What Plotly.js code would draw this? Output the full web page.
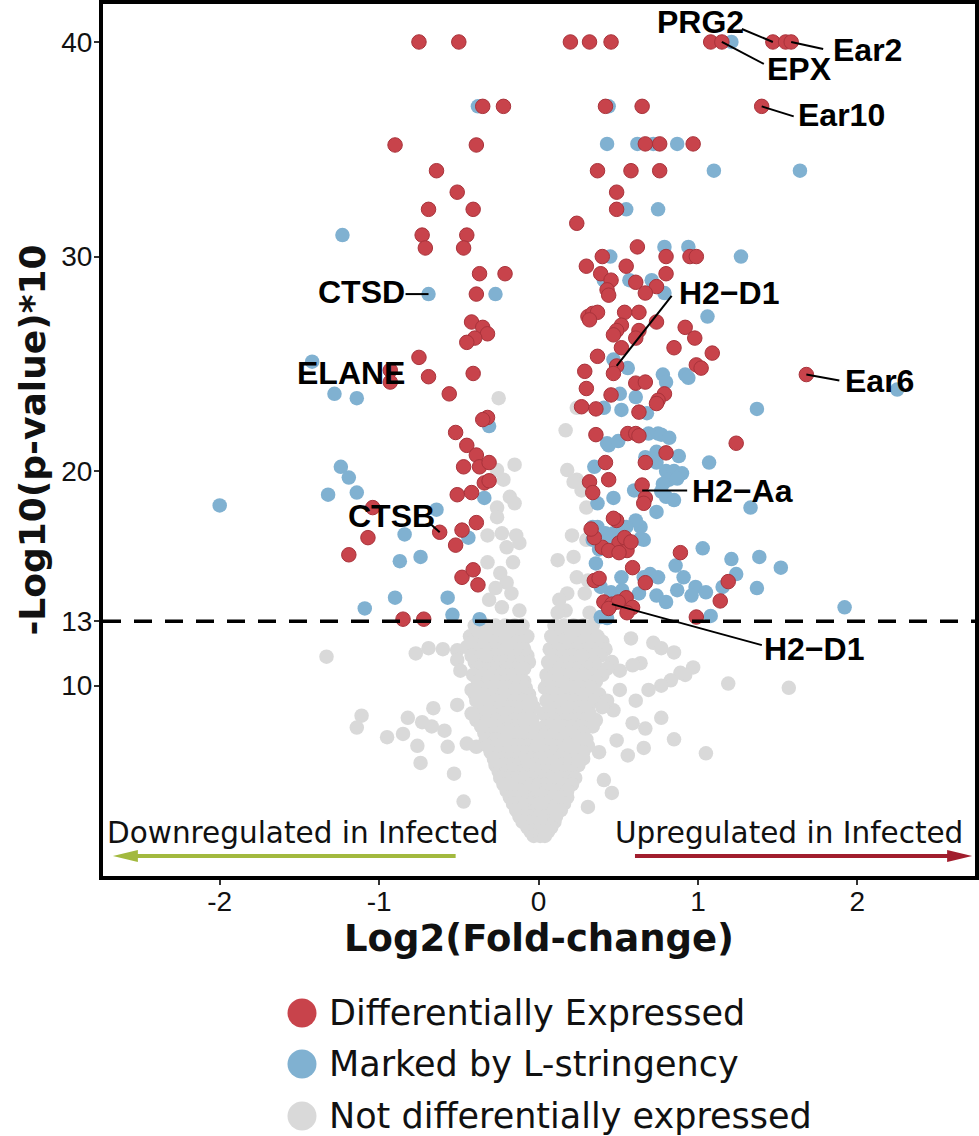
<!DOCTYPE html>
<html>
<head>
<meta charset="utf-8">
<script src="https://cdn.plot.ly/plotly-3.0.1.min.js"></script>
<style>html,body{margin:0;padding:0;background:#fff;}#chart{width:979px;height:1136px;}</style>
</head>
<body>
<div id="chart"></div>
<script>
// ---------- DATA ----------
const seriesNames = ['Differentially Expressed', 'Marked by L-stringency', 'Not differentially expressed'];

// Differentially expressed genes: [log2FC, -log10(p)*10]
const redPoints = [
  [-0.75,40],[-0.50,40],[-0.35,37],[-0.22,37],[-0.90,35.2],[-0.39,35.2],
  [-0.64,34.0],[-0.51,33.0],[-0.69,32.2],[-0.41,32.2],[-0.73,31.0],[-0.71,30.4],
  [-0.45,31.0],[-0.47,30.4],[-0.37,29.2],[-0.21,29.2],[-0.39,28.25],
  [-0.42,26.95],[-0.35,26.7],[-0.32,26.4],[-0.40,26.2],[-0.45,26.0],
  [-0.75,25.3],[-0.69,24.4],[-0.41,24.55],[-0.56,23.6],[-0.93,24.7],[-0.93,24.15],
  [-0.32,22.5],[-0.35,22.4],[-0.52,21.8],[-0.45,21.2],[-0.39,20.75],[-0.47,20.2],
  [-0.37,20.2],[-0.31,20.4],[-0.34,19.45],[-0.31,19.55],[-0.51,18.9],[-0.42,19.0],
  [-1.04,18.3],[-1.07,16.9],[-1.19,16.1],[-0.62,17.15],[-0.39,17.6],[-0.48,17.25],
  [-0.52,16.55],[-0.48,15.05],[-0.41,15.4],[-0.38,14.7],[-0.85,13.1],[-0.72,13.1],
  [0.20,40],[0.32,40],[0.455,40],[1.08,40],[1.15,40],[1.47,40],[1.55,40],[1.585,40],
  [0.42,37],[0.65,37],[1.40,37],[0.67,35.25],[0.76,35.25],[0.97,35.25],
  [0.37,34.0],[0.58,34.0],[0.76,34.0],[0.49,33.0],[0.49,32.2],[0.24,31.55],
  [0.62,30.45],[0.40,30.0],[0.80,30.0],[0.95,30.0],[0.99,30.0],
  [0.30,29.55],[0.55,29.55],[0.39,29.2],[0.80,29.2],
  [0.455,28.9],[0.43,28.45],[0.44,28.2],[0.61,28.8],[0.74,28.6],[0.67,28.3],
  [0.31,27.2],[0.34,27.35],[0.37,27.4],[0.54,27.4],[0.63,27.4],[0.74,26.95],[0.32,27.05],
  [0.52,26.8],[0.49,26.55],[0.47,26.35],[0.63,26.55],[0.61,26.2],
  [0.92,26.7],[0.98,26.2],[0.85,25.75],[1.09,25.5],[0.52,25.75],[0.37,25.35],
  [0.49,24.9],[0.47,24.55],[0.29,24.65],[0.99,24.95],[1.02,24.8],
  [0.30,23.85],[0.61,24.1],[0.67,24.15],[0.79,23.6],[0.75,23.3],
  [0.455,23.55],[0.27,23.0],[0.36,22.9],[0.63,22.75],[0.74,23.15],
  [0.36,21.7],[0.56,21.75],[0.61,21.75],[0.63,21.65],
  [1.68,24.5],[1.24,21.3],[0.80,20.85],[0.67,20.4],[0.42,20.4],
  [0.32,19.5],[0.34,19.0],[0.44,19.6],[0.65,19.35],[0.67,18.75],[0.66,18.5],
  [0.49,17.7],[0.47,17.8],[0.505,16.65],[0.55,16.8],[0.40,16.45],[0.555,16.3],
  [0.54,16.9],[0.58,16.7],[0.44,16.3],[0.505,16.2],[0.35,16.9],[0.33,17.3],
  [0.89,16.2],[0.35,14.9],[0.59,15.5],[0.67,14.8],[1.19,14.85],[1.14,13.95],[0.38,15.0],
  [0.41,13.9],[0.46,13.8],[0.55,14.1],[0.59,13.65],[0.555,13.4],[0.99,13.2],[0.50,13.9],[0.44,13.6]
];

// Marked by L-stringency
const bluePoints = [
  [-0.38,37],[-1.23,31.0],[-0.69,28.25],[-0.27,28.25],
  [-1.42,25.1],[-1.28,23.6],[-1.14,23.4],[-0.31,22.1],
  [-1.24,20.2],[-1.19,19.7],[-1.32,18.9],[-1.14,19.0],[-2.0,18.4],
  [-0.34,18.75],[-0.64,18.2],[-0.84,17.05],[-0.44,16.9],[-0.87,15.8],[-0.74,16.0],
  [-0.90,14.1],[-0.57,14.1],[-1.09,13.6],[-0.54,13.3],[-0.37,13.1],
  [1.21,40],[0.44,37],[0.43,35.25],[0.62,35.25],[0.72,35.25],[0.87,35.25],
  [1.10,34.0],[1.64,34.0],[0.55,32.2],[0.75,32.2],
  [0.79,30.45],[0.94,30.45],[1.27,30.0],[0.45,30.0],
  [0.41,28.9],[0.57,28.9],[0.71,28.9],[0.79,28.3],[1.06,27.2],
  [0.47,25.2],[0.56,24.8],[0.78,24.5],[0.80,24.15],[0.92,24.5],[0.94,24.35],
  [2.25,23.8],[1.37,22.9],[0.51,23.6],[0.61,23.45],[0.41,22.95],[0.52,22.85],[0.68,22.7],
  [0.69,21.75],[0.75,21.75],[0.77,21.7],[0.82,21.55],[0.43,21.3],[0.44,21.2],[0.50,21.4],
  [1.07,20.4],[0.88,20.7],[0.74,20.9],[0.67,20.65],[0.74,20.4],[0.35,20.2],
  [0.80,20.0],[0.85,20.0],[0.90,19.9],[0.82,19.6],[0.87,19.65],[0.78,19.4],
  [0.60,19.1],[0.77,19.05],[1.33,18.3],
  [0.37,18.5],[0.47,18.75],[0.74,18.1],[0.80,18.8],[0.85,18.65],
  [0.37,17.4],[0.42,17.1],[0.47,17.1],[0.52,17.1],[0.64,17.4],[0.66,16.8],[0.61,17.7],
  [0.55,17.4],[0.34,17.4],[0.34,16.8],[0.38,16.35],[0.36,15.7],[0.45,16.85],[0.50,16.85],[0.64,16.85],
  [1.03,16.4],[1.21,15.9],[1.385,16.0],[1.52,15.5],[1.92,13.65],
  [0.52,15.05],[0.75,15.05],[0.86,15.6],[0.91,15.05],[0.985,14.6],[1.05,14.35],[0.87,14.45],
  [1.24,15.2],[1.155,14.6],[1.37,14.55],[0.74,14.2],[0.80,13.9],[0.63,14.3],[0.455,14.35],
  [0.525,14.45],[0.70,15.2],[0.66,15.05],[0.39,13.2],[0.43,13.15],[1.08,13.25],[0.39,14.6],[0.96,14.2]
];

// Not differentially expressed
const greyPoints = [
  [-0.25,23.4],[-0.15,20.3],[-0.26,20.05],[-0.22,19.6],[-0.18,18.8],[-0.15,18.5],[-0.26,18.3],
  [-0.26,17.85],[-0.32,17.0],[-0.23,17.1],[-0.14,17.0],[-0.20,16.45],[-0.12,16.65],[-0.16,15.75],
  [-0.32,15.75],[-0.24,15.25],[-0.20,14.8],[-0.27,14.55],[-0.17,14.3],[-0.31,14.0],[-0.23,13.65],
  [-0.12,13.5],[-0.36,12.95],
  [0.17,21.9],[0.24,22.95],[0.18,20.05],[0.24,19.6],[0.27,19.1],[0.30,18.3],[0.21,17.0],[0.30,16.8],
  [0.12,15.85],[0.22,16.0],[0.24,15.05],[0.31,14.9],[0.18,14.3],[0.13,14.0],[0.29,14.3],[0.17,13.5],
  [0.32,13.4],[0.12,13.4],[0.22,19.5],
  [-1.33,11.35],[-0.77,11.5],[-0.69,11.75],[-0.60,11.7],[-0.51,11.65],[-0.45,11.8],[-0.51,11.2],[-0.49,10.7],
  [-1.11,8.6],[-1.14,8.05],[-0.82,8.5],[-0.95,7.6],[-0.85,7.75],[-0.73,8.3],[-0.67,8.1],[-0.66,8.95],
  [-0.76,7.2],[-0.59,7.9],[-0.57,7.15],[-0.74,6.4],[-0.53,5.9],[-0.47,4.6],[-0.45,7.3],[-0.39,7.15],
  [-0.51,9.1],[-0.42,9.8],
  [0.58,12.2],[0.72,12.0],[0.77,11.75],[0.85,11.55],[0.97,10.85],[0.92,10.5],[0.89,10.6],[0.83,10.25],
  [0.77,10.0],[0.69,9.8],[0.64,11.05],[0.59,10.95],[1.19,10.1],[1.57,9.9],[0.77,8.5],[0.85,7.5],
  [1.05,6.85],[0.67,8.0],[0.66,7.1],[0.56,6.75],[0.59,8.25],[0.51,9.8],[0.61,9.3],[0.46,11.1],
  [0.51,10.7],[0.47,8.85],[0.49,7.45],[0.38,6.9],[0.46,5.0],[0.31,4.35],[0.41,5.6],[0.06,10.15],
  [-0.40,12.8],[-0.33,12.8],[-0.27,12.8],[-0.21,12.8],[-0.15,12.8],[-0.10,12.8],[0.10,12.8],[0.16,12.8],[0.22,12.8],[0.28,12.8],[0.34,12.8],
  [-0.43,12.3],[-0.36,12.3],[-0.30,12.3],[-0.24,12.3],[-0.18,12.3],[-0.12,12.3],[-0.07,12.3],[0.08,12.3],[0.13,12.3],[0.19,12.3],[0.25,12.3],[0.31,12.3],[0.37,12.3],
  [-0.41,12.05],[-0.34,12.05],[-0.28,12.05],[-0.22,12.05],[-0.16,12.05],[-0.10,12.05],[0.10,12.05],[0.16,12.05],[0.22,12.05],[0.28,12.05],[0.34,12.05],[0.40,12.05],
  [-0.38,11.7],[-0.32,11.7],[-0.26,11.7],[-0.20,11.7],[-0.14,11.7],[-0.09,11.7],[0.07,11.7],[0.12,11.7],[0.18,11.7],[0.24,11.7],[0.30,11.7],[0.36,11.7],[0.42,11.7],
  [-0.42,11.4],[-0.36,11.4],[-0.30,11.4],[-0.24,11.4],[-0.18,11.4],[-0.12,11.4],[-0.07,11.4],[0.09,11.4],[0.15,11.4],[0.21,11.4],[0.27,11.4],[0.33,11.4],[0.39,11.4],
  [-0.40,11.1],[-0.34,11.1],[-0.28,11.1],[-0.22,11.1],[-0.16,11.1],[-0.11,11.1],[-0.06,11.1],[0.06,11.1],[0.11,11.1],[0.17,11.1],[0.23,11.1],[0.29,11.1],[0.35,11.1],
  [-0.38,10.8],[-0.32,10.8],[-0.26,10.8],[-0.20,10.8],[-0.14,10.8],[-0.09,10.8],[0.08,10.8],[0.13,10.8],[0.19,10.8],[0.25,10.8],[0.31,10.8],[0.37,10.8],[0.43,10.8],
  [-0.41,10.5],[-0.35,10.5],[-0.29,10.5],[-0.23,10.5],[-0.17,10.5],[-0.12,10.5],[0.05,10.5],[0.10,10.5],[0.16,10.5],[0.22,10.5],[0.28,10.5],[0.34,10.5],[0.40,10.5],
  [-0.38,10.2],[-0.32,10.2],[-0.26,10.2],[-0.20,10.2],[-0.14,10.2],[-0.09,10.2],[0.07,10.2],[0.12,10.2],[0.18,10.2],[0.24,10.2],[0.30,10.2],[0.36,10.2],
  [-0.37,9.9],[-0.31,9.9],[-0.25,9.9],[-0.19,9.9],[-0.13,9.9],[-0.08,9.9],[0.04,9.9],[0.09,9.9],[0.15,9.9],[0.21,9.9],[0.27,9.9],[0.33,9.9],
  [-0.40,9.6],[-0.34,9.6],[-0.28,9.6],[-0.22,9.6],[-0.16,9.6],[-0.11,9.6],[-0.06,9.6],[0.07,9.6],[0.12,9.6],[0.18,9.6],[0.24,9.6],[0.30,9.6],[0.38,9.6],
  [-0.39,9.3],[-0.33,9.3],[-0.27,9.3],[-0.21,9.3],[-0.15,9.3],[-0.10,9.3],[-0.05,9.3],[0.05,9.3],[0.10,9.3],[0.16,9.3],[0.22,9.3],[0.28,9.3],[0.35,9.3],[0.43,9.3],
  [-0.36,9.0],[-0.30,9.0],[-0.24,9.0],[-0.18,9.0],[-0.13,9.0],[-0.08,9.0],[-0.03,9.0],[0.07,9.0],[0.13,9.0],[0.19,9.0],[0.25,9.0],[0.31,9.0],[0.40,9.0],
  [-0.42,8.7],[-0.35,8.7],[-0.29,8.7],[-0.23,8.7],[-0.17,8.7],[-0.12,8.7],[-0.06,8.7],[0.03,8.7],[0.08,8.7],[0.14,8.7],[0.20,8.7],[0.26,8.7],[0.32,8.7],
  [-0.39,8.4],[-0.32,8.4],[-0.26,8.4],[-0.20,8.4],[-0.15,8.4],[-0.09,8.4],[-0.04,8.4],[0.06,8.4],[0.11,8.4],[0.17,8.4],[0.23,8.4],[0.29,8.4],[0.36,8.4],
  [-0.36,8.1],[-0.30,8.1],[-0.24,8.1],[-0.18,8.1],[-0.13,8.1],[-0.08,8.1],[-0.03,8.1],[0.04,8.1],[0.09,8.1],[0.15,8.1],[0.21,8.1],[0.27,8.1],[0.34,8.1],
  [-0.34,7.8],[-0.28,7.8],[-0.22,7.8],[-0.16,7.8],[-0.11,7.8],[-0.05,7.8],[0.00,7.8],[0.05,7.8],[0.10,7.8],[0.16,7.8],[0.22,7.8],[0.28,7.8],
  [-0.33,7.5],[-0.27,7.5],[-0.21,7.5],[-0.16,7.5],[-0.11,7.5],[-0.06,7.5],[-0.02,7.5],[0.02,7.5],[0.07,7.5],[0.12,7.5],[0.18,7.5],[0.24,7.5],[0.30,7.5],
  [-0.32,7.2],[-0.26,7.2],[-0.21,7.2],[-0.16,7.2],[-0.11,7.2],[-0.06,7.2],[-0.01,7.2],[0.04,7.2],[0.09,7.2],[0.14,7.2],[0.19,7.2],[0.25,7.2],[0.31,7.2],
  [-0.30,6.9],[-0.25,6.9],[-0.19,6.9],[-0.14,6.9],[-0.09,6.9],[-0.04,6.9],[0.01,6.9],[0.06,6.9],[0.11,6.9],[0.16,6.9],[0.22,6.9],[0.28,6.9],
  [-0.28,6.6],[-0.23,6.6],[-0.18,6.6],[-0.13,6.6],[-0.08,6.6],[-0.04,6.6],[0.00,6.6],[0.04,6.6],[0.08,6.6],[0.13,6.6],[0.18,6.6],[0.23,6.6],[0.28,6.6],
  [-0.27,6.3],[-0.22,6.3],[-0.17,6.3],[-0.12,6.3],[-0.07,6.3],[-0.03,6.3],[0.02,6.3],[0.06,6.3],[0.10,6.3],[0.15,6.3],[0.20,6.3],[0.25,6.3],
  [-0.25,6.0],[-0.20,6.0],[-0.15,6.0],[-0.10,6.0],[-0.06,6.0],[-0.02,6.0],[0.02,6.0],[0.06,6.0],[0.11,6.0],[0.16,6.0],[0.21,6.0],
  [-0.24,5.7],[-0.19,5.7],[-0.14,5.7],[-0.09,5.7],[-0.05,5.7],[0.00,5.7],[0.04,5.7],[0.08,5.7],[0.13,5.7],[0.18,5.7],[0.23,5.7],
  [-0.22,5.4],[-0.17,5.4],[-0.12,5.4],[-0.08,5.4],[-0.04,5.4],[0.00,5.4],[0.04,5.4],[0.08,5.4],[0.12,5.4],[0.16,5.4],[0.21,5.4],
  [-0.20,5.1],[-0.15,5.1],[-0.11,5.1],[-0.07,5.1],[-0.03,5.1],[0.01,5.1],[0.05,5.1],[0.09,5.1],[0.13,5.1],[0.18,5.1],
  [-0.18,4.8],[-0.14,4.8],[-0.10,4.8],[-0.06,4.8],[-0.02,4.8],[0.02,4.8],[0.06,4.8],[0.10,4.8],[0.14,4.8],[0.18,4.8],
  [-0.16,4.5],[-0.12,4.5],[-0.08,4.5],[-0.04,4.5],[0.00,4.5],[0.04,4.5],[0.08,4.5],[0.12,4.5],[0.16,4.5],
  [-0.14,4.2],[-0.10,4.2],[-0.06,4.2],[-0.02,4.2],[0.02,4.2],[0.06,4.2],[0.10,4.2],[0.14,4.2],
  [-0.12,3.9],[-0.08,3.9],[-0.04,3.9],[0.00,3.9],[0.04,3.9],[0.08,3.9],[0.11,3.9],
  [-0.10,3.65],[-0.06,3.65],[-0.02,3.65],[0.02,3.65],[0.06,3.65],[0.10,3.65],
  [-0.07,3.4],[-0.03,3.4],[0.01,3.4],[0.05,3.4],[0.08,3.4],
  [-0.05,3.2],[-0.01,3.2],[0.03,3.2],[0.06,3.2],
  [-0.03,3.0],[0.01,3.0],[0.04,3.0],
  [-0.38,12.55],[-0.19,12.55],[0.21,12.55],[-0.33,11.4],[0.27,11.4]
];

// Labelled genes
const labelGenes = ['PRG2','Ear2','EPX','Ear10','H2\u2212D1','CTSD','ELANE','CTSB','Ear6','H2\u2212Aa','H2\u2212D1'];
const labelX = [1.47, 1.585, 1.15, 1.40, 0.49, -0.69, -0.93, -0.62, 1.68, 0.60, 0.46];
const labelY = [40, 40, 40, 37, 24.9, 28.25, 24.45, 17.15, 24.5, 19.1, 13.8];

// Axes
const xTickVals = [-2, -1, 0, 1, 2];
const yTickVals = [10, 13, 20, 30, 40];
const thresholdY = 13;
const xTitle = 'Log2(Fold-change)';
const yTitle = '-Log10(p-value)*10';
const downText = 'Downregulated in Infected';
const upText = 'Upregulated in Infected';

// ---------- STYLE / LAYOUT ----------
const colRed = '#c8434b', colRedLine = '#a9333b', colBlue = '#80b1d1', colGrey = '#d9d9d9';
const colGreenArrow = '#a2b93e', colRedArrow = '#a11d2d';
const MS = 14.5;
const W = 979, H = 1136, ML = 103, MR = 4, MT = 4, MB = 260;
const plotW = W - ML - MR, plotH = H - MT - MB;
const xRange = [-2.732, 2.738], yRange = [1.13, 41.77];
const pxToPaperX = px => (px - ML) / plotW;
const pyToPaperY = py => (H - MB - py) / plotH;

const traces = [
  {x: greyPoints.map(p => p[0]), y: greyPoints.map(p => p[1]), name: seriesNames[2], type: 'scatter', mode: 'markers',
   marker: {size: MS, color: colGrey}},
  {x: bluePoints.map(p => p[0]), y: bluePoints.map(p => p[1]), name: seriesNames[1], type: 'scatter', mode: 'markers',
   marker: {size: MS, color: colBlue}},
  {x: redPoints.map(p => p[0]), y: redPoints.map(p => p[1]), name: seriesNames[0], type: 'scatter', mode: 'markers',
   marker: {size: MS, color: colRed, line: {color: colRedLine, width: 1}}}
];

// label offsets in pixels relative to the point: [textDx, textDy(up), lineX0, lineY0, lineX1, lineY1]
const labelStyle = [
  [-72, 20, 0, 0, -31, 13],
  [76, -8, 0, 0, 32, -7],
  [78, -27, 0, 0, 42, -22],
  [80, -9, 0, 0, 32, -10],
  [113, 73, 0, 0, 55, 70],
  [-67, 2, 0, 0, -23, 0],
  [-39, 3, 0, 0, 0, 0],
  [-48, 16, 0, 0, -10, 9],
  [73, -6, 0, 0, 33, -6],
  [108, -1, 8, 0, 53, 0],
  [203, -45, 0, 0, 150, -41]
];

const shapes = [
  {type: 'line', xref: 'paper', yref: 'y', x0: 0, x1: 1, y0: thresholdY, y1: thresholdY,
   line: {color: '#000', width: 3.5, dash: '18px,13px'}, layer: 'above'}
];
const annotations = [];
labelGenes.forEach((g, i) => {
  const s = labelStyle[i];
  if (s[4] !== s[2] || s[5] !== s[3]) {
    shapes.push({type: 'line', xref: 'x', yref: 'y', xsizemode: 'pixel', ysizemode: 'pixel',
      xanchor: labelX[i], yanchor: labelY[i], x0: s[2], y0: s[3], x1: s[4], y1: s[5],
      line: {color: '#000', width: 2}, layer: 'above'});
  }
  annotations.push({x: labelX[i], y: labelY[i], xref: 'x', yref: 'y', text: '<b>' + g + '</b>', showarrow: false,
    xshift: s[0], yshift: s[1], xanchor: 'center', yanchor: 'middle',
    font: {family: 'Liberation Sans, Arial, sans-serif', size: 32, color: '#000'}});
});

// direction arrows (data x positions of tail & tip, y level)
const arrowY = 2.06, downTail = -0.52, downTip = -2.67, upTail = 0.605, upTip = 2.72;
shapes.push({type: 'line', xref: 'x', yref: 'y', x0: downTail, x1: downTip + 0.1, y0: arrowY, y1: arrowY,
  line: {color: colGreenArrow, width: 4}});
shapes.push({type: 'path', xref: 'x', yref: 'y', xsizemode: 'pixel', ysizemode: 'pixel', xanchor: downTip, yanchor: arrowY,
  path: 'M0,0 L25,6 L25,-6 Z', fillcolor: colGreenArrow, line: {width: 0}});
shapes.push({type: 'line', xref: 'x', yref: 'y', x0: upTail, x1: upTip - 0.1, y0: arrowY, y1: arrowY,
  line: {color: colRedArrow, width: 4}});
shapes.push({type: 'path', xref: 'x', yref: 'y', xsizemode: 'pixel', ysizemode: 'pixel', xanchor: upTip, yanchor: arrowY,
  path: 'M0,0 L-25,6 L-25,-6 Z', fillcolor: colRedArrow, line: {width: 0}});
annotations.push({x: -2.72, y: 3.14, xref: 'x', yref: 'y', text: downText, showarrow: false, xanchor: 'left', yanchor: 'middle',
  font: {family: 'DejaVu Sans, Verdana, sans-serif', size: 29.5, color: '#111'}});
annotations.push({x: 2.675, y: 3.14, xref: 'x', yref: 'y', text: upText, showarrow: false, xanchor: 'right', yanchor: 'middle',
  font: {family: 'DejaVu Sans, Verdana, sans-serif', size: 29.5, color: '#111'}});

// manual legend (large circles)
const legendColors = [colRed, colBlue, colGrey];
const legendRowsPy = [1013, 1064, 1116];
seriesNames.forEach((n, i) => {
  shapes.push({type: 'circle', xref: 'paper', yref: 'paper', xsizemode: 'pixel', ysizemode: 'pixel',
    xanchor: pxToPaperX(302), yanchor: pyToPaperY(legendRowsPy[i]), x0: -14.5, x1: 14.5, y0: -14.5, y1: 14.5,
    fillcolor: legendColors[i], line: {width: 0}});
  annotations.push({xref: 'paper', yref: 'paper', x: pxToPaperX(327), y: pyToPaperY(legendRowsPy[i]), text: n,
    showarrow: false, xanchor: 'left', yanchor: 'middle',
    font: {family: 'DejaVu Sans, Verdana, sans-serif', size: 35, color: '#111'}});
});

const tickFont = {family: 'Liberation Sans, Arial, sans-serif', size: 28, color: '#111'};
const layout = {
  width: W, height: H,
  margin: {l: ML, r: MR, t: MT, b: MB, pad: 0},
  paper_bgcolor: '#fff', plot_bgcolor: '#fff',
  showlegend: false,
  xaxis: {range: xRange, tickvals: xTickVals, ticktext: xTickVals.map(String), showgrid: false, zeroline: false,
    showline: true, linecolor: '#000', linewidth: 4, mirror: true,
    ticks: 'outside', ticklen: 5, tickwidth: 2, tickcolor: '#333', tickfont: tickFont, ticklabelstandoff: -8,
    title: {text: xTitle, font: {family: 'DejaVu Sans, Verdana, sans-serif', size: 37, weight: 'bold', color: '#111'}, standoff: 2}},
  yaxis: {range: yRange, tickvals: yTickVals, ticktext: yTickVals.map(String), showgrid: false, zeroline: false,
    showline: true, linecolor: '#000', linewidth: 4, mirror: true,
    ticks: 'outside', ticklen: 5, tickwidth: 2, tickcolor: '#333', tickfont: tickFont, ticklabelstandoff: -4,
    title: {text: yTitle, font: {family: 'DejaVu Sans, Verdana, sans-serif', size: 36, weight: 'bold', color: '#111'}, standoff: 6}},
  shapes: shapes,
  annotations: annotations
};

Plotly.newPlot('chart', traces, layout, {staticPlot: true, displayModeBar: false});
</script>
</body>
</html>
